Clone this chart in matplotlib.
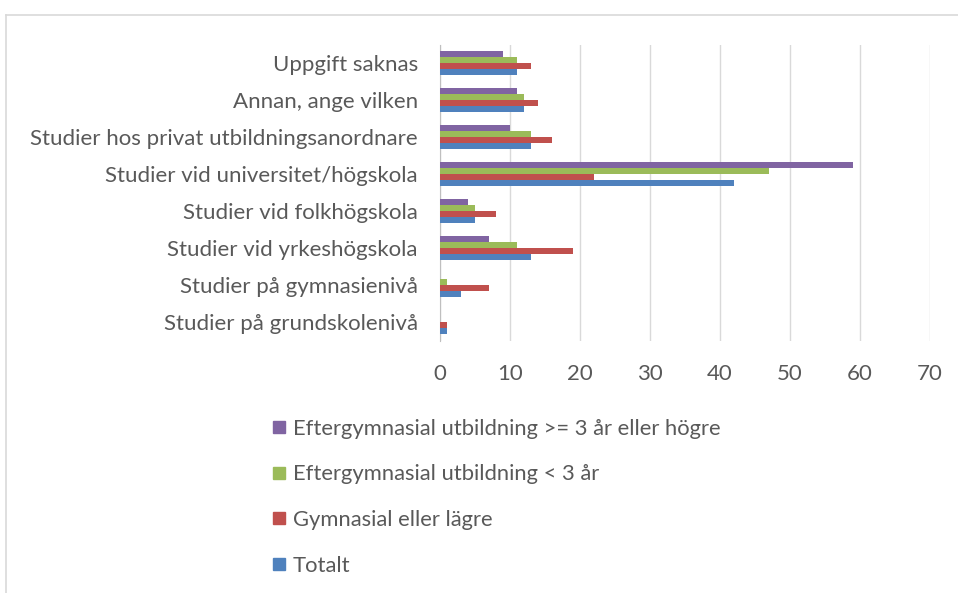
import matplotlib
matplotlib.use("Agg")
import matplotlib.pyplot as plt
from matplotlib.lines import Line2D
import numpy as np

categories = [
    "Studier på grundskolenivå",
    "Studier på gymnasienivå",
    "Studier vid yrkeshögskola",
    "Studier vid folkhögskola",
    "Studier vid universitet/högskola",
    "Studier hos privat utbildningsanordnare",
    "Annan, ange vilken",
    "Uppgift saknas",
]
series_names = [
    "Totalt",
    "Gymnasial eller lägre",
    "Eftergymnasial utbildning < 3 år",
    "Eftergymnasial utbildning >= 3 år eller högre",
]
totalt = [1, 3, 13, 5, 42, 13, 12, 11]
gymnasial = [1, 7, 19, 8, 22, 16, 14, 13]
efter_lt3 = [0, 1, 11, 5, 47, 13, 12, 11]
efter_ge3 = [0, 0, 7, 4, 59, 10, 11, 9]
series_values = [totalt, gymnasial, efter_lt3, efter_ge3]
colors = ["#4F81BD", "#C0504D", "#9BBB59", "#8064A2"]
xticks = [0, 10, 20, 30, 40, 50, 60, 70]

plt.rcParams["font.family"] = ["Lato", "DejaVu Sans"]
text_color = "#595959"
fs = 16

fig = plt.figure(figsize=(9.58, 5.93), dpi=100)
ax = fig.add_axes([440 / 958, 1 - 340.5 / 593, 490 / 958, (340.5 - 44.5) / 593])

y = np.arange(len(categories))
h = 0.16
n = len(series_values)
for i, (vals, c) in enumerate(zip(series_values, colors)):
    offs = (i - (n - 1) / 2) * h
    ax.barh(y + offs, vals, height=h, color=c, edgecolor="none", zorder=3)

ax.set_xlim(0, 70)
ax.set_ylim(-0.5, len(categories) - 0.5)
ax.set_xticks(xticks)
ax.set_xticklabels([str(t) for t in xticks])
ax.set_yticks(y)
ax.set_yticklabels(categories)
ax.tick_params(axis="both", length=0, colors=text_color, labelsize=fs)
ax.tick_params(axis="x", pad=17)
ax.tick_params(axis="y", pad=16)
ax.grid(axis="x", color="#D9D9D9", linewidth=1, zorder=0)
for s in ["top", "right", "bottom"]:
    ax.spines[s].set_visible(False)
ax.spines["left"].set_color("#BFBFBF")

handles = [Line2D([], [], marker="s", linestyle="none", markersize=8.5,
                  color=c) for c in colors][::-1]
labels = series_names[::-1]
leg = fig.legend(handles, labels, loc="upper left",
                 bbox_to_anchor=(262 / 958, 1 - 410 / 593),
                 frameon=False, handlelength=0.75, handletextpad=0.25,
                 labelspacing=1.17, fontsize=15.8, borderaxespad=0)
for t in leg.get_texts():
    t.set_color(text_color)

# outer chart border (cropped)
fig.add_artist(Line2D([6 / 958, 1.0], [1 - 15 / 593] * 2, color="#D9D9D9",
                      linewidth=1.2, transform=fig.transFigure))
fig.add_artist(Line2D([6 / 958] * 2, [0, 1 - 15 / 593], color="#D9D9D9",
                      linewidth=1.2, transform=fig.transFigure))

fig.savefig("out.png", dpi=100)
